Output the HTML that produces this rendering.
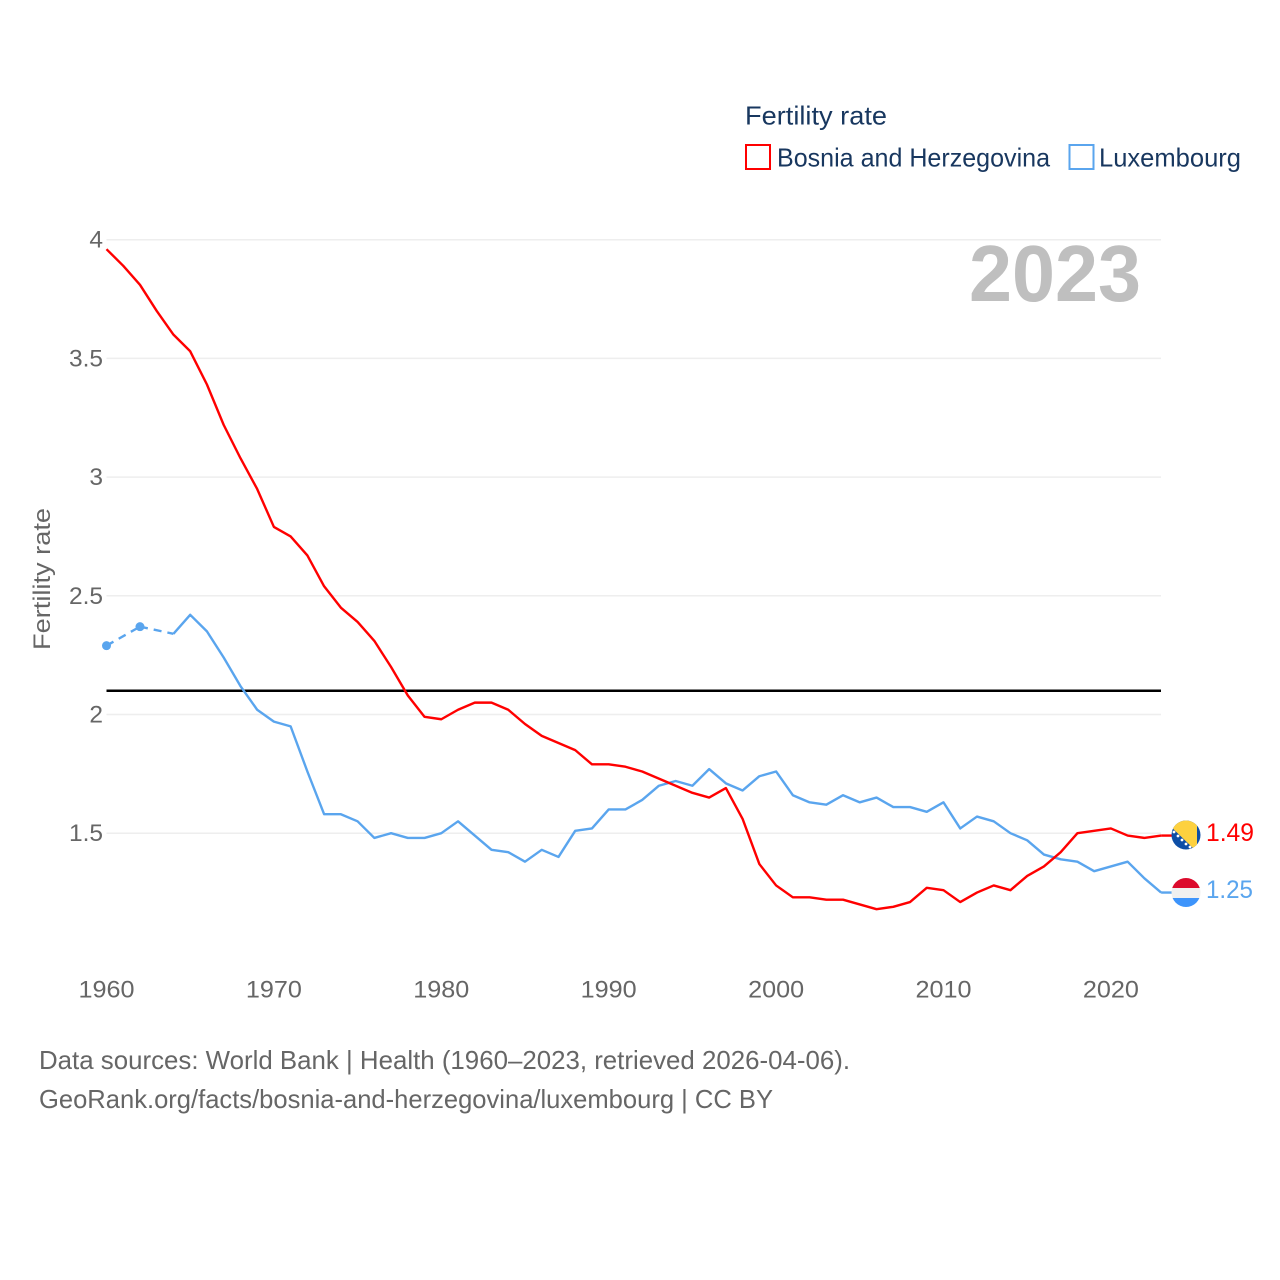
<!DOCTYPE html>
<html lang="en">
<head>
<meta charset="utf-8">
<title>Fertility rate: Bosnia and Herzegovina vs Luxembourg</title>
<style>
html,body{margin:0;padding:0;background:#fff;width:1280px;height:1280px;overflow:hidden}
svg{display:block}
text{font-family:"Liberation Sans",sans-serif}
</style>
</head>
<body>
<svg id="chart" xmlns="http://www.w3.org/2000/svg" width="1280" height="1280" viewBox="0 0 1280 1280">
  <defs>
    <clipPath id="clip-ba"><circle cx="1186" cy="835" r="14.5"/></clipPath>
    <clipPath id="clip-lu"><circle cx="1186" cy="892.5" r="14.5"/></clipPath>
  </defs>
  <g id="grid"></g>
  <g id="y-ticks"></g>
  <g id="x-ticks"></g>
  <text transform="translate(50,579) rotate(-90)" text-anchor="middle" font-size="24" fill="#666" textLength="142" lengthAdjust="spacingAndGlyphs">Fertility rate</text>
  <text x="969" y="301" font-size="80" font-weight="700" fill="#bfbfbf" textLength="172" lengthAdjust="spacingAndGlyphs">2023</text>
  <g id="reference"></g>
  <g id="series"></g>

  <g>
    <text x="745" y="124.5" font-size="26" fill="#18375f" textLength="142" lengthAdjust="spacingAndGlyphs">Fertility rate</text>
    <rect x="746" y="145" width="24" height="24" fill="#fff" stroke="#ff0000" stroke-width="2"/>
    <text x="777" y="166.5" font-size="26" fill="#18375f" textLength="273" lengthAdjust="spacingAndGlyphs">Bosnia and Herzegovina</text>
    <rect x="1069.5" y="145" width="24" height="24" fill="#fff" stroke="#5aa5ee" stroke-width="2"/>
    <text x="1099" y="166.5" font-size="26" fill="#18375f" textLength="142" lengthAdjust="spacingAndGlyphs">Luxembourg</text>
  </g>

  <g clip-path="url(#clip-ba)">
    <rect x="1171" y="820" width="30" height="30" fill="#0d4ea6"/>
    <polygon points="1164,820 1197,820 1197,850 1195,850" fill="#fdd13f"/>
    <g fill="#fff">
      <circle cx="1174" cy="832" r="1.4"/><circle cx="1178" cy="836" r="1.4"/><circle cx="1182" cy="840" r="1.4"/><circle cx="1186" cy="844" r="1.4"/><circle cx="1190" cy="847" r="1.4"/>
    </g>
  </g>
  <g clip-path="url(#clip-lu)">
    <rect x="1171" y="877" width="30" height="11" fill="#dc0a2c"/>
    <rect x="1171" y="888" width="30" height="10" fill="#f0f0f0"/>
    <rect x="1171" y="898" width="30" height="10" fill="#3d94fb"/>
  </g>
  <text x="1206" y="841" font-size="25" fill="#ff0000" textLength="48" lengthAdjust="spacingAndGlyphs">1.49</text>
  <text x="1206" y="898" font-size="25" fill="#5aa5ee" textLength="47" lengthAdjust="spacingAndGlyphs">1.25</text>

  <text x="39" y="1069" font-size="26" fill="#666" textLength="811" lengthAdjust="spacingAndGlyphs">Data sources: World Bank | Health (1960–2023, retrieved 2026-04-06).</text>
  <a><text x="39" y="1108" font-size="26" fill="#666" textLength="734" lengthAdjust="spacingAndGlyphs">GeoRank.org/facts/bosnia-and-herzegovina/luxembourg | CC BY</text></a>
</svg>
<script>
const startYear = 1960;
const bosnia = [3.96,3.89,3.81,3.70,3.60,3.53,3.39,3.22,3.08,2.95,2.79,2.75,2.67,2.54,2.45,2.39,2.31,2.20,2.08,1.99,1.98,2.02,2.05,2.05,2.02,1.96,1.91,1.88,1.85,1.79,1.79,1.78,1.76,1.73,1.70,1.67,1.65,1.69,1.56,1.37,1.28,1.23,1.23,1.22,1.22,1.20,1.18,1.19,1.21,1.27,1.26,1.21,1.25,1.28,1.26,1.32,1.36,1.42,1.50,1.51,1.52,1.49,1.48,1.49];
const luxembourg = [2.29,null,2.37,null,2.34,2.42,2.35,2.24,2.12,2.02,1.97,1.95,1.76,1.58,1.58,1.55,1.48,1.50,1.48,1.48,1.50,1.55,1.49,1.43,1.42,1.38,1.43,1.40,1.51,1.52,1.60,1.60,1.64,1.70,1.72,1.70,1.77,1.71,1.68,1.74,1.76,1.66,1.63,1.62,1.66,1.63,1.65,1.61,1.61,1.59,1.63,1.52,1.57,1.55,1.50,1.47,1.41,1.39,1.38,1.34,1.36,1.38,1.31,1.25];
const yTicks = [1.5,2,2.5,3,3.5,4];
const xTicks = [1960,1970,1980,1990,2000,2010,2020];
const referenceValue = [2.1];

const NS = 'http://www.w3.org/2000/svg';
const xPos = function (year) { return 106.5 + (year - 1960) * 16.74; };
const yPos = function (value) { return 714.5 - (value - 2) * 237.4; };

function make(tag, parent, attrs, content) {
  const el = document.createElementNS(NS, tag);
  Object.keys(attrs).forEach(function (k) { el.setAttribute(k, attrs[k]); });
  if (content !== undefined) el.textContent = content;
  parent.appendChild(el);
  return el;
}

const grid = document.getElementById('grid');
const yGroup = document.getElementById('y-ticks');
const xGroup = document.getElementById('x-ticks');
const refGroup = document.getElementById('reference');
const seriesGroup = document.getElementById('series');

yTicks.forEach(function (t) {
  const line = make('line', grid, {x1: xPos(1960), x2: 1161, y1: yPos(t), y2: yPos(t), stroke: '#eeeeee', 'stroke-width': 1.5});
  
  
  const label = make('text', yGroup, {x: 103, y: yPos(t) + 8, 'text-anchor': 'end', 'font-size': 24.5, fill: '#666'}, String(t));
  
  
});

xTicks.forEach(function (t) {
  const label = make('text', xGroup, {x: xPos(t), y: 997.5, 'text-anchor': 'middle', 'font-size': 24.5, fill: '#666', textLength: 56, lengthAdjust: 'spacingAndGlyphs'}, String(t));
  
  
});

referenceValue.forEach(function (v) {
  const line = make('line', refGroup, {x1: xPos(1960), x2: 1161, y1: yPos(v), y2: yPos(v), stroke: '#000', 'stroke-width': 2.6});
  
  
});

function drawSeries(values, color, name) {
  let solid = '';
  let prev = null;
  values.forEach(function (v, i) {
    if (v === null) return;
    const x = xPos(startYear + i);
    const y = yPos(v);
    if (prev !== null && prev.i < i - 1) {
      const dash = make('line', seriesGroup, {x1: prev.x, y1: prev.y, x2: x, y2: y, stroke: color, 'stroke-width': 2.4, 'stroke-dasharray': '8 6'});
      
      
    }
    const contiguous = prev !== null && prev.i === i - 1;
    const nextExists = i + 1 < values.length && values[i + 1] !== null;
    solid += (contiguous ? 'L' : 'M') + x.toFixed(2) + ' ' + y.toFixed(2);
    if (!contiguous && !nextExists) {
      const dot = make('circle', seriesGroup, {cx: x, cy: y, r: 4.5, fill: color});
      
      
    }
    prev = {i: i, x: x, y: y};
  });
  const path = make('path', seriesGroup, {d: solid, fill: 'none', stroke: color, 'stroke-width': 2.4, 'stroke-linejoin': 'round'});
  
  
  const last = values[values.length - 1];
  const connector = make('line', seriesGroup, {x1: xPos(startYear + values.length - 1), x2: 1172, y1: yPos(last), y2: yPos(last), stroke: color, 'stroke-width': 2.4});
  
  
}

drawSeries(luxembourg, '#5aa5ee', 'luxembourg');
drawSeries(bosnia, '#ff0000', 'bosnia');
</script>
</body>
</html>
